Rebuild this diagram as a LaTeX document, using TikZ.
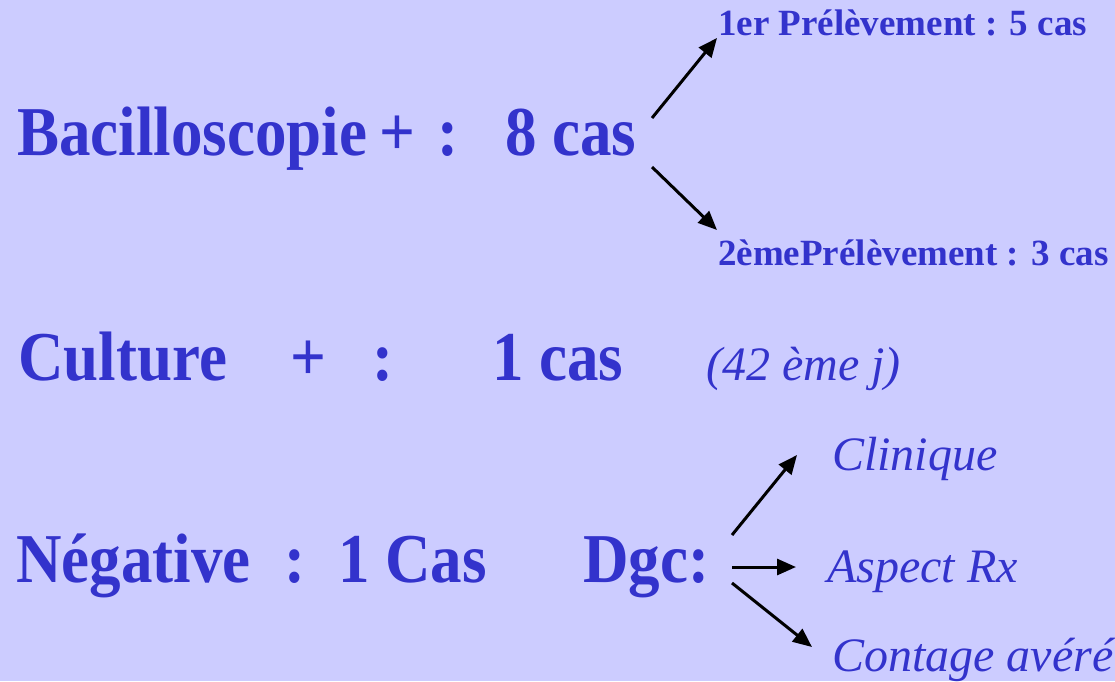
\documentclass[tikz,border=0pt]{standalone}
\usepackage{fontspec}
\setmainfont{Liberation Serif}
\newfontfamily\condfont[FakeStretch=0.9]{Liberation Serif}
\usetikzlibrary{arrows.meta}
\definecolor{bgc}{RGB}{204,204,255}
\definecolor{txt}{RGB}{51,51,204}
\tikzset{
  big/.style={inner sep=0pt, anchor=base west, text=txt, font=\condfont\bfseries\fontsize{70}{84}\selectfont},
  small/.style={inner sep=0pt, anchor=base west, text=txt, font=\bfseries\fontsize{37}{44}\selectfont},
  ital/.style={inner sep=0pt, anchor=base west, text=txt, font=\itshape\fontsize{48}{58}\selectfont},
  arr/.style={draw=black, line width=3pt, -{Triangle[length=19pt,width=16pt]}}
}
\begin{document}
\begin{tikzpicture}[x=1pt,y=-1pt]
\fill[bgc] (0,0) rectangle (1115,681);
\useasboundingbox (0,0) rectangle (1115,681);
% line 1
\node[big] (bac) at (17,155) {Bacilloscopie};
\node[big] (bplus) at (379,155) {+};
\node[big] (bcol) at (437,155) {:};
\node[big] (bcas) at (505,155) {8 cas};
\node[small] (p1) at (718,35) {1er Prélèvement : 5 cas};
\node[small] (p2) at (718,265) {2èmePrélèvement : 3 cas};
\coordinate (a1s) at (652,118);
\coordinate (a1e) at (717,38);
\coordinate (a2s) at (652,167);
\coordinate (a2e) at (717,230);
\draw[arr] (a1s) -- (a1e);
\draw[arr] (a2s) -- (a2e);
% line 2
\node[big] (cul) at (18,380) {Culture};
\node[big] (cplus) at (290,380) {+};
\node[big] (ccol) at (372,380) {:};
\node[big] (ccas) at (492,380) {1 cas};
\node[ital] (cj) at (706,380) {(42 ème j)};
% line 3
\node[big] (neg) at (16,582) {Négative};
\node[big] (ncol) at (284,582) {:};
\node[big] (ncas) at (338,582) {1 Cas};
\node[big] (dgc) at (583,582) {Dgc:};
\node[ital] (cli) at (832,470) {Clinique};
\node[ital] (asp) at (827,582) {Aspect Rx};
\node[ital] (con) at (832,671) {Contage avéré};
\coordinate (d1s) at (732,535);
\coordinate (d1e) at (797,455);
\coordinate (d2s) at (732,567);
\coordinate (d2e) at (796,567);
\coordinate (d3s) at (732,583);
\coordinate (d3e) at (812,647);
\draw[arr] (d1s) -- (d1e);
\draw[arr] (d2s) -- (d2e);
\draw[arr] (d3s) -- (d3e);
\end{tikzpicture}
\end{document}
